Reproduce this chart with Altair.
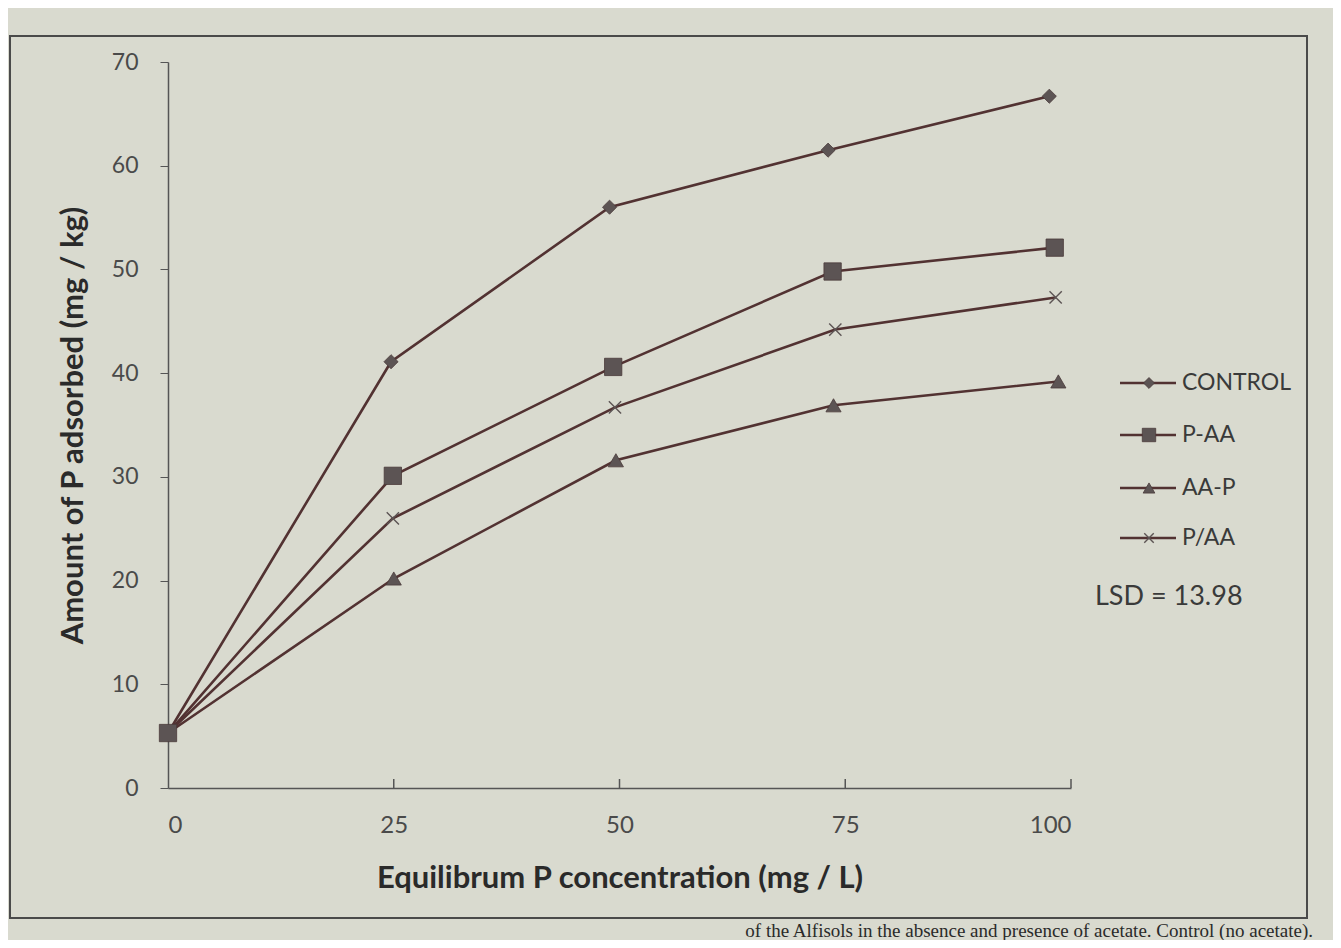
import altair as alt
import pandas as pd

series_names = ["CONTROL", "P-AA", "AA-P", "P/AA"]
x_control = [0, 24.7, 48.9, 73.1, 97.6]
y_control = [5.3, 41.1, 56.0, 61.5, 66.7]
x_paa = [0, 24.9, 49.3, 73.6, 98.2]
y_paa = [5.3, 30.1, 40.6, 49.8, 52.1]
x_aap = [0, 25.0, 49.6, 73.7, 98.6]
y_aap = [5.3, 20.2, 31.6, 36.9, 39.2]
x_ppaa = [0, 24.9, 49.5, 73.9, 98.3]
y_ppaa = [5.3, 26.0, 36.7, 44.2, 47.3]
x_ticks = [0, 25, 50, 75, 100]
y_ticks = [0, 10, 20, 30, 40, 50, 60, 70]
lsd_text = "LSD = 13.98"
x_title = "Equilibrum P concentration (mg / L)"
y_title = "Amount of P adsorbed (mg / kg)"
caption = "of the Alfisols in the absence and presence of acetate. Control (no acetate)."

LINE = "#523232"
MARK = "#5c5454"
BG = "#d9dacf"
FONT = "Lato"

xs = {"CONTROL": x_control, "P-AA": x_paa, "AA-P": x_aap, "P/AA": x_ppaa}
ys = {"CONTROL": y_control, "P-AA": y_paa, "AA-P": y_aap, "P/AA": y_ppaa}

rows = []
for s in series_names:
    for i, (a, b) in enumerate(zip(xs[s], ys[s])):
        rows.append({"series": s, "x": a, "y": b, "i": i})
df = pd.DataFrame(rows)

xscale = alt.Scale(domain=[0, 100], nice=False, zero=False)
yscale = alt.Scale(domain=[0, 70], nice=False)

X = alt.X("x:Q", scale=xscale,
          axis=alt.Axis(values=x_ticks, title=x_title, grid=False, ticks=False,
                        labelPadding=25, labelFontSize=24, labelColor="#4a4a4a",
                        labelFont=FONT, titleFont=FONT, titleFontSize=31,
                        titleFontWeight="bold", titleColor="#2a2a2a", titlePadding=26,
                        domainColor="#555555", domainWidth=1.5))
Y = alt.Y("y:Q", scale=yscale,
          axis=alt.Axis(values=y_ticks, title=y_title, grid=False, tickSize=8,
                        tickColor="#555555", labelPadding=22, labelFontSize=23,
                        labelColor="#4a4a4a", labelFont=FONT, titleFont=FONT,
                        titleFontSize=31, titleFontWeight="bold", titleColor="#2a2a2a",
                        titlePadding=22, domainColor="#555555", domainWidth=1.5))

base = alt.Chart(df)

frame = alt.Chart(pd.DataFrame({"a": [0]})).mark_rect(
    fill=None, stroke="#4a4a4a", strokeWidth=2
).encode(x=alt.value(-158), x2=alt.value(1139), y=alt.value(-26), y2=alt.value(856))

xtick_df = pd.DataFrame({"x": x_ticks[1:]})
xticks_layer = alt.Chart(xtick_df).mark_rule(color="#555555", strokeWidth=1.5).encode(
    x=alt.X("x:Q", scale=xscale), y=alt.value(726), y2=alt.value(717))

lines = base.mark_line(color=LINE, strokeWidth=2.6).encode(
    x=X, y=Y, detail="series:N", order="i:Q")

shape_map = {
    "CONTROL": ("diamond", 200, True),
    "P-AA": ("square", 300, True),
    "AA-P": ("triangle-up", 230, True),
    "P/AA": ("M-1,-1L1,1M-1,1L1,-1", 150, False),
}

point_layers = []
for s in ["P/AA", "AA-P", "CONTROL", "P-AA"]:
    shp, sz, filled = shape_map[s]
    if filled:
        m = alt.Chart(df[df.series == s]).mark_point(
            shape=shp, size=sz, filled=True, fill=MARK, stroke="#4a3a3a",
            strokeWidth=0.8, opacity=1)
    else:
        m = alt.Chart(df[df.series == s]).mark_point(
            shape=shp, size=sz, filled=False, stroke=MARK, strokeWidth=1.4, opacity=1)
    point_layers.append(m.encode(x=alt.X("x:Q", scale=xscale), y=alt.Y("y:Q", scale=yscale)))

legend_rows_y = [321, 373, 426, 476]
legend_layers = []
one = pd.DataFrame({"a": [0]})
for s, ly in zip(series_names, legend_rows_y):
    legend_layers.append(alt.Chart(one).mark_rule(color=LINE, strokeWidth=2.6).encode(
        x=alt.value(952), x2=alt.value(1008), y=alt.value(ly)))
    shp, sz, filled = shape_map[s]
    if filled:
        pm = alt.Chart(one).mark_point(shape=shp, size=sz * 0.6, filled=True, fill=MARK,
                                       stroke="#4a3a3a", strokeWidth=0.8, opacity=1)
    else:
        pm = alt.Chart(one).mark_point(shape=shp, size=sz * 0.6, filled=False,
                                       stroke=MARK, strokeWidth=1.4, opacity=1)
    legend_layers.append(pm.encode(x=alt.value(981), y=alt.value(ly)))
    legend_layers.append(alt.Chart(pd.DataFrame({"t": [s]})).mark_text(
        align="left", baseline="middle", font=FONT, fontSize=23, color="#3a3a3a"
    ).encode(x=alt.value(1014), y=alt.value(ly), text="t:N"))

lsd = alt.Chart(pd.DataFrame({"t": [lsd_text]})).mark_text(
    align="left", baseline="middle", font=FONT, fontSize=27, color="#3a3a3a"
).encode(x=alt.value(927), y=alt.value(535), text="t:N")

cap = alt.Chart(pd.DataFrame({"t": [caption]})).mark_text(
    align="right", baseline="alphabetic", font="Liberation Serif", fontSize=19, color="#2a2a2a"
).encode(x=alt.value(1145), y=alt.value(875), text="t:N")

chart = alt.layer(frame, lines, xticks_layer, *point_layers, *legend_layers, lsd, cap).properties(
    width=903, height=726,
    autosize=alt.AutoSizeParams(type="none"),
    padding={"left": 160, "top": 54, "right": 262, "bottom": 152},
    background=BG,
).configure_view(stroke=None)

chart.save("out.html", embed_options={"renderer": "svg", "actions": False})
